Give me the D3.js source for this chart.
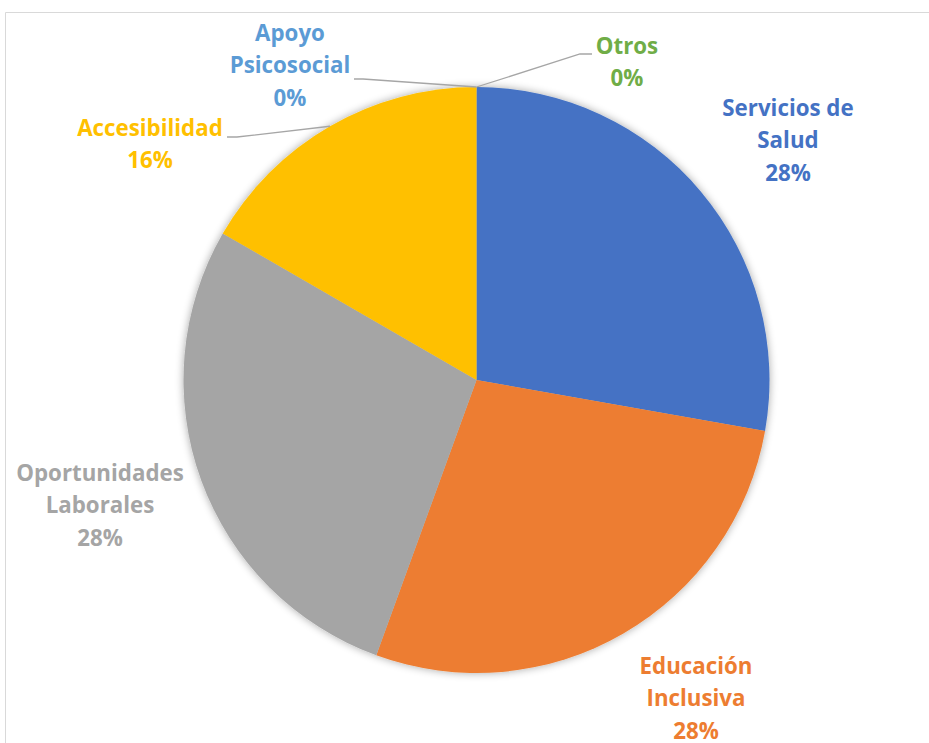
<!DOCTYPE html>
<html><head><meta charset="utf-8">
<script src="https://cdn.jsdelivr.net/npm/d3@7"></script>
<style>html,body{margin:0;padding:0;background:#fff;}svg{display:block;}</style>
</head><body>
<svg id="chart" width="929" height="743"></svg>
<script>
// Data
const categories = ["Servicios de Salud", "Educación Inclusiva", "Oportunidades Laborales", "Accesibilidad", "Apoyo Psicosocial", "Otros"];
const values = [5, 5, 5, 3, 0, 0];
const percentLabels = ["28%", "28%", "28%", "16%", "0%", "0%"];
const labelLines = [["Servicios de", "Salud"], ["Educación", "Inclusiva"], ["Oportunidades", "Laborales"], ["Accesibilidad"], ["Apoyo", "Psicosocial"], ["Otros"]];

// Styling / layout
const colors = ["#4472C4", "#ED7D31", "#A5A5A5", "#FFC000", "#5B9BD5", "#70AD47"];
const labelPos = [ // center x, first line center y
  {x: 788, y: 108}, {x: 696, y: 666}, {x: 100, y: 473}, {x: 150, y: 128}, {x: 290, y: 33}, {x: 627, y: 46}
];
const leaderStart = [null, null, null, [227, 137, 237], [354, 79, 363], [592, 54, 580]]; // x, y, elbow x
const lineH = 32.3;
const cx = 476.5, cy = 380, R = 293;

const svg = d3.select("#chart");
const defs = svg.append("defs");
const f = defs.append("filter").attr("id", "sh").attr("x", "-10%").attr("y", "-10%").attr("width", "120%").attr("height", "120%");
f.append("feGaussianBlur").attr("in", "SourceAlpha").attr("stdDeviation", 4).attr("result", "b");
f.append("feOffset").attr("in", "b").attr("dx", 0).attr("dy", 0).attr("result", "o");
f.append("feComponentTransfer").attr("in", "o").attr("result", "o2").append("feFuncA").attr("type", "linear").attr("slope", 0.35);
const m = f.append("feMerge");
m.append("feMergeNode").attr("in", "o2");
m.append("feMergeNode").attr("in", "SourceGraphic");

// border
svg.append("path").attr("d", "M5.5,743 L5.5,12.5 L929,12.5").attr("fill", "none").attr("stroke", "#d9d9d9").attr("stroke-width", 1);

const pie = d3.pie().sort(null).value(d => d)(values);
const arc = d3.arc().innerRadius(0).outerRadius(R);

const g = svg.append("g").attr("transform", `translate(${cx},${cy})`);
g.append("g").attr("filter", "url(#sh)").selectAll("path").data(pie).join("path")
  .attr("d", arc).attr("fill", (d, i) => colors[i]);

// leader lines
pie.forEach((d, i) => {
  if (!leaderStart[i]) return;
  const a = (d.startAngle + d.endAngle) / 2;
  const px = cx + R * Math.sin(a), py = cy - R * Math.cos(a);
  const [sx, sy, ex] = leaderStart[i];
  svg.append("polyline").attr("points", `${sx},${sy} ${ex},${sy} ${px},${py}`)
    .attr("fill", "none").attr("stroke", "#a6a6a6").attr("stroke-width", 1.3);
});

// labels
categories.forEach((c, i) => {
  const lines = labelLines[i].concat([percentLabels[i]]);
  const t = svg.append("text").attr("text-anchor", "middle")
    .attr("font-family", "'Open Sans', Lato, sans-serif").attr("font-weight", "bold").attr("font-size", 22.3)
    .attr("fill", colors[i]);
  lines.forEach((l, k) => {
    t.append("tspan").attr("x", labelPos[i].x).attr("y", labelPos[i].y + k * lineH).attr("dy", "0.36em").text(l);
  });
});
</script>
</body></html>
